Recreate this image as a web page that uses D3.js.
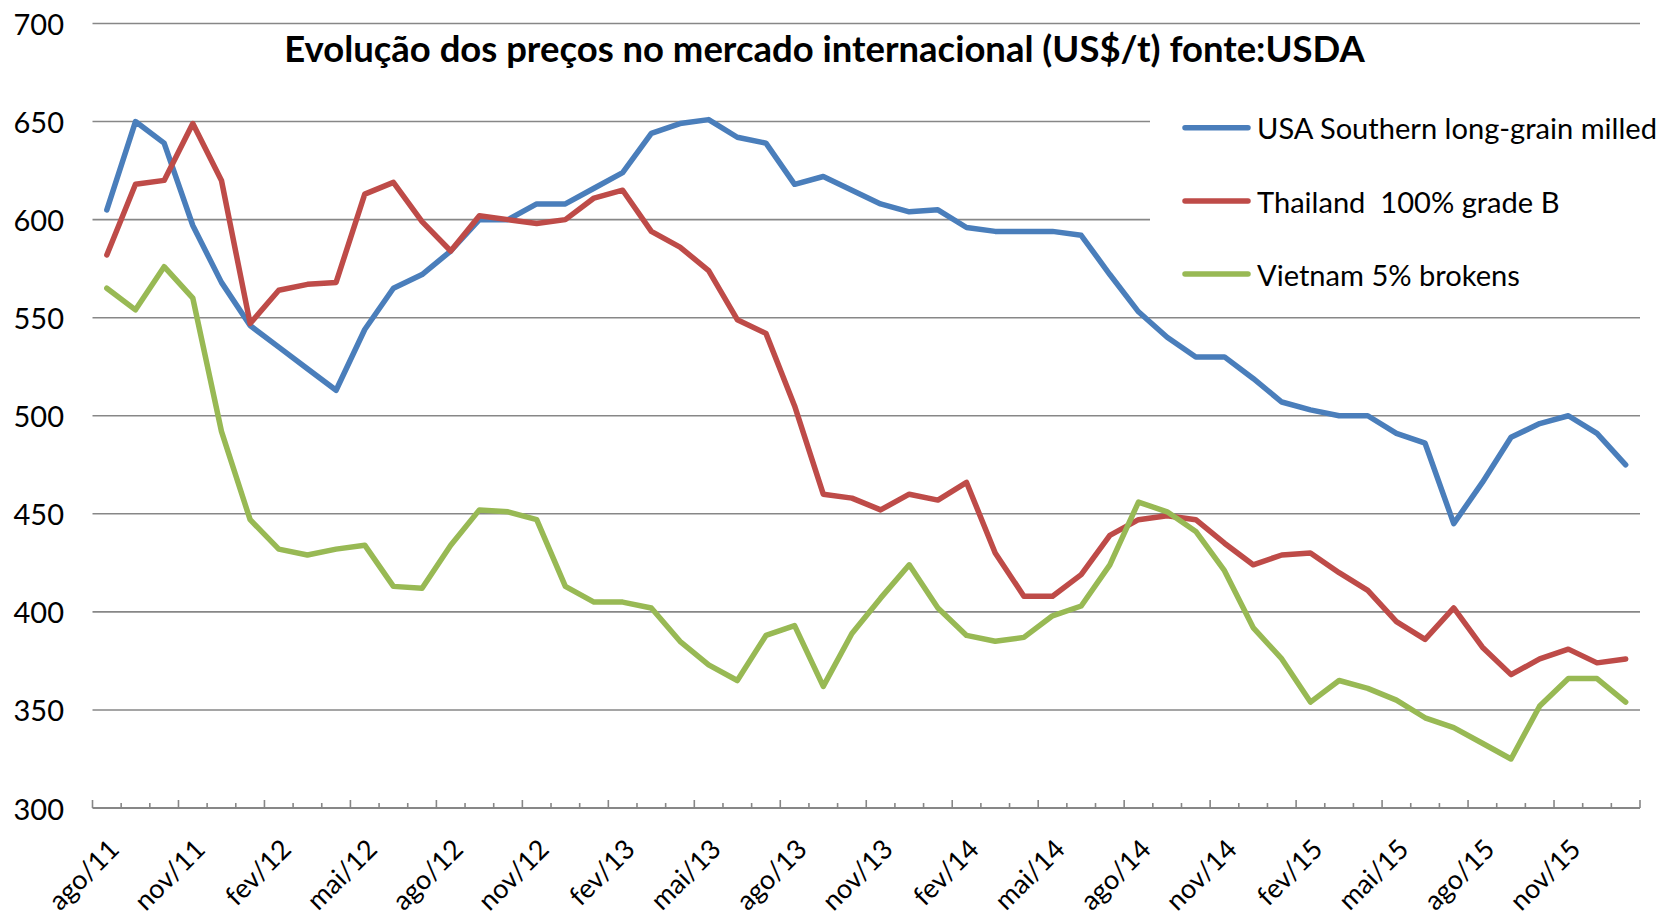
<!DOCTYPE html>
<html>
<head>
<meta charset="utf-8">
<script src="https://cdn.jsdelivr.net/npm/d3@7"></script>
<style>
  body { margin: 0; background: #fff; }
  text { font-family: Lato, "Open Sans", sans-serif; fill: #000; }
</style>
</head>
<body>
<svg id="chart" width="1663" height="919"></svg>
<script>
const months = [
  'ago/11','set/11','out/11','nov/11','dez/11','jan/12','fev/12','mar/12','abr/12','mai/12','jun/12','jul/12',
  'ago/12','set/12','out/12','nov/12','dez/12','jan/13','fev/13','mar/13','abr/13','mai/13','jun/13','jul/13',
  'ago/13','set/13','out/13','nov/13','dez/13','jan/14','fev/14','mar/14','abr/14','mai/14','jun/14','jul/14',
  'ago/14','set/14','out/14','nov/14','dez/14','jan/15','fev/15','mar/15','abr/15','mai/15','jun/15','jul/15',
  'ago/15','set/15','out/15','nov/15','dez/15','jan/16'
]
const tickLabels = ['ago/11','nov/11','fev/12','mai/12','ago/12','nov/12','fev/13','mai/13','ago/13',
  'nov/13','fev/14','mai/14','ago/14','nov/14','fev/15','mai/15','ago/15','nov/15']
const yTicks = [300, 350, 400, 450, 500, 550, 600, 650, 700]

const usa = [605, 650, 639, 597, 568, 546, 535, 524, 513, 544, 565, 572, 584, 600, 600, 608, 608, 616,
  624, 644, 649, 651, 642, 639, 618, 622, 615, 608, 604, 605, 596, 594, 594, 594, 592, 572, 553, 540,
  530, 530, 519, 507, 503, 500, 500, 491, 486, 445, 466, 489, 496, 500, 491, 475]
const thai = [582, 618, 620, 649, 620, 547, 564, 567, 568, 613, 619, 599, 584, 602, 600, 598, 600, 611,
  615, 594, 586, 574, 549, 542, 505, 460, 458, 452, 460, 457, 466, 430, 408, 408, 419, 439, 447, 449,
  447, 435, 424, 429, 430, 420, 411, 395, 386, 402, 382, 368, 376, 381, 374, 376]
const viet = [565, 554, 576, 560, 492, 447, 432, 429, 432, 434, 413, 412, 434, 452, 451, 447, 413, 405,
  405, 402, 385, 373, 365, 388, 393, 362, 389, 407, 424, 402, 388, 385, 387, 398, 403, 424, 456, 451,
  441, 421, 392, 376, 354, 365, 361, 355, 346, 341, 333, 325, 352, 366, 366, 354]

const seriesNames = ['USA Southern long-grain milled', 'Thailand  100% grade B', 'Vietnam 5% brokens']
const colors = ['#4a7ebb', '#be4b48', '#98b954']

const svg = d3.select('#chart')
const plotL = 92.5, plotR = 1640, plotT = 23.5, plotB = 808

const x = d3.scaleBand().domain(months).range([plotL, plotR])
const y = d3.scaleLinear().domain([300, 700]).range([plotB, plotT])
const cx = d => x(d) + x.bandwidth() / 2

// gridlines
svg.append('g').selectAll('line')
  .data(yTicks.filter(v => v > 300))
  .join('line')
  .attr('x1', plotL).attr('x2', plotR)
  .attr('y1', d => y(d)).attr('y2', d => y(d))
  .attr('stroke', '#878787').attr('stroke-width', 1.6)

// y labels
svg.append('g').selectAll('text')
  .data(yTicks)
  .join('text')
  .attr('x', 64).attr('y', d => y(d))
  .attr('text-anchor', 'end').attr('dominant-baseline', 'central')
  .style('font-size', '29px')
  .text(d => d)

// x axis line + ticks (between categories)
const xAxis = svg.append('g')
xAxis.append('line')
  .attr('x1', plotL).attr('x2', plotR).attr('y1', plotB).attr('y2', plotB)
  .attr('stroke', '#878787').attr('stroke-width', 1.8)
const bounds = months.map(m => x(m)).concat([plotR])
xAxis.selectAll('.tk')
  .data(bounds)
  .join('line')
  .attr('class', 'tk')
  .attr('x1', d => d).attr('x2', d => d)
  .attr('y1', plotB).attr('y2', (d, i) => i % 3 === 0 ? plotB - 8 : plotB - 5)
  .attr('stroke', '#878787').attr('stroke-width', 1.6)

xAxis.selectAll('.lbl')
  .data(tickLabels)
  .join('text')
  .attr('class', 'lbl')
  .attr('transform', d => `translate(${cx(d) + 14},${plotB + 43}) rotate(-45)`)
  .attr('text-anchor', 'end')
  .style('font-size', '27px')
  .text(d => d)

// lines
const line = d3.line().x((d, i) => cx(months[i])).y(d => y(d))
;[usa, thai, viet].forEach((s, k) => {
  svg.append('path')
    .datum(s)
    .attr('d', line)
    .attr('fill', 'none')
    .attr('stroke', colors[k])
    .attr('stroke-width', 5.5)
    .attr('stroke-linejoin', 'round')
    .attr('stroke-linecap', 'round')
})

// legend (white box hides gridlines behind it)
svg.append('rect')
  .attr('x', 1150).attr('y', 90).attr('width', 513).attr('height', 210)
  .attr('fill', '#fff')
const legY = [127.7, 201, 274]
const leg = svg.append('g')
leg.selectAll('line')
  .data(seriesNames)
  .join('line')
  .attr('x1', 1185).attr('x2', 1248)
  .attr('y1', (d, i) => legY[i]).attr('y2', (d, i) => legY[i])
  .attr('stroke', (d, i) => colors[i])
  .attr('stroke-width', 5.5).attr('stroke-linecap', 'round')
const legText = leg.selectAll('text')
  .data(seriesNames)
  .join('text')
  .attr('x', 1257).attr('y', (d, i) => legY[i])
  .attr('dominant-baseline', 'central')
  .style('white-space', 'pre')
  .style('font-size', '26px')
  .text(d => d)
const w0 = legText.node().getComputedTextLength()
legText.style('font-size', (26 * 400 / w0) + 'px')

// title
const title = svg.append('text')
  .attr('x', 824.5).attr('y', 61.5)
  .attr('text-anchor', 'middle')
  .style('font-weight', 'bold')
  .style('font-size', '30px')
  .text('Evolução dos preços no mercado internacional (US$/t) fonte:USDA')
const tw = title.node().getComputedTextLength()
title.style('font-size', (30 * 1081 / tw) + 'px')
</script>
</body>
</html>
